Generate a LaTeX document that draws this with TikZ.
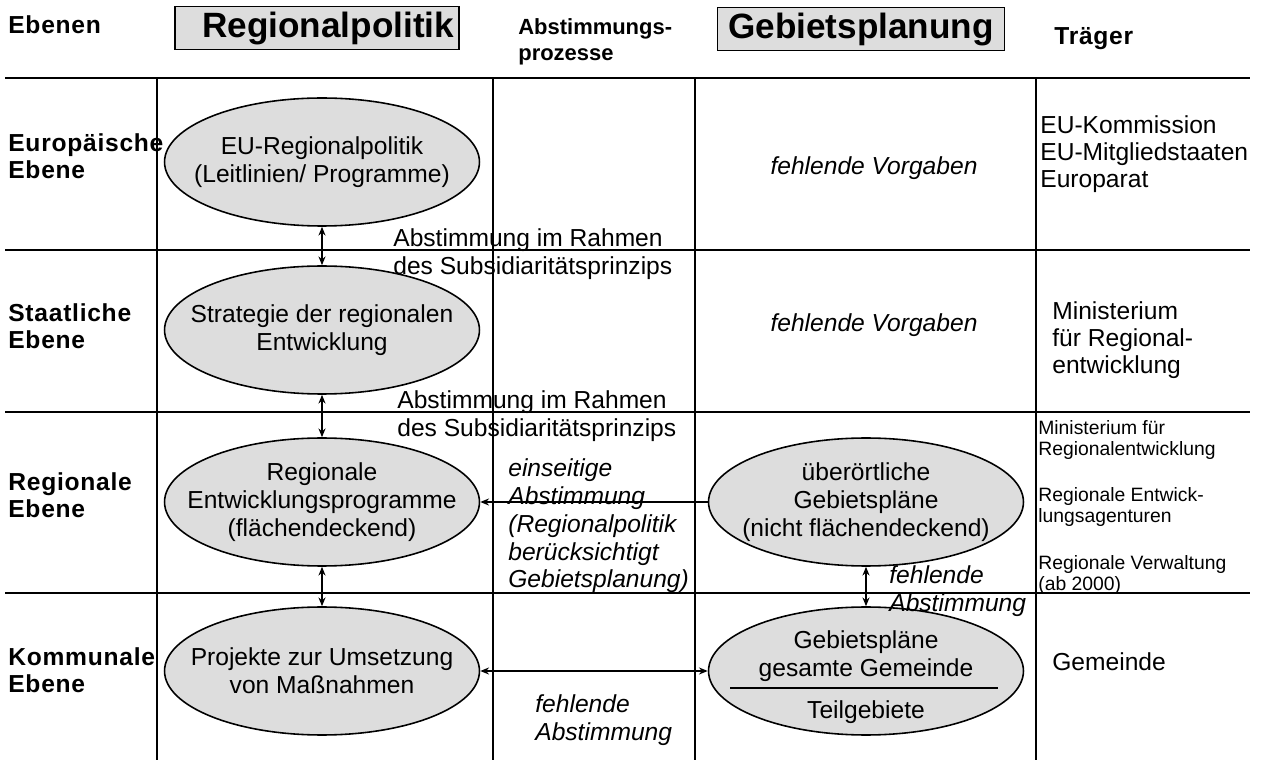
\documentclass[tikz,border=0pt]{standalone}
\usepackage{fontspec}
\setmainfont{Liberation Sans}
\newfontfamily\ebenefont[LetterSpace=3]{Liberation Sans}
\usetikzlibrary{shapes.geometric,arrows.meta,positioning}
\definecolor{plangray}{RGB}{221,221,221}

\tikzset{
  gridline/.style={line width=1.1pt},
  ebene/.style={anchor=west,align=left,inner sep=0pt,font=\ebenefont\bfseries\fontsize{14}{15.5}\selectfont},
  titlebox/.style={draw,line width=0.9pt,fill=plangray,inner sep=0pt,minimum height=0.86cm,font=\bfseries\fontsize{20}{24}\selectfont},
  plan/.style={ellipse,draw,line width=0.9pt,fill=plangray,inner sep=0pt,minimum width=6.3cm,minimum height=2.56cm},
  plantext/.style={align=center,inner sep=0pt,font=\fontsize{14}{16}\selectfont},
  remark/.style={anchor=west,align=left,inner sep=0pt,font=\fontsize{14}{16}\selectfont},
  hint/.style={remark,font=\itshape\fontsize{14}{15.8}\selectfont},
  traeger/.style={anchor=west,align=left,inner sep=0pt,font=\fontsize{14}{15.3}\selectfont},
  traegersmall/.style={anchor=west,align=left,inner sep=0pt,font=\fontsize{11}{12.5}\selectfont},
  link/.style={{Stealth[length=5pt,width=4pt]}-{Stealth[length=5pt,width=4pt]},line width=0.7pt},
  oneway/.style={-{Stealth[length=5pt,width=4pt]},line width=0.7pt}
}

\begin{document}
\begin{tikzpicture}[x=0.02cm,y=-0.02cm]
  \useasboundingbox (0,0) rectangle (1269,763);

  % ---- grid ----
  \foreach \y in {78,250,412,593}{\draw[gridline] (5,\y) -- (1250,\y);}
  \foreach \x in {157,493,695,1036}{\draw[gridline] (\x,78) -- (\x,760);}

  % ---- column headers ----
  \node[ebene] (hdEbenen) at (8,25) {Ebenen};
  \node[titlebox,minimum width=5.68cm] (hdRegpol) at (317,28) {\hspace*{0.45cm}Regionalpolitik};
  \node[ebene,font=\bfseries\fontsize{12.5}{15}\selectfont] (hdAbst) at (518,42) {Abstimmungs-\\prozesse};
  \node[titlebox,minimum width=5.74cm] (hdGebpl) at (861,29) {Gebietsplanung};
  \node[ebene] (hdTraeger) at (1054,39) {Träger};

  % ---- row labels ----
  \foreach \n/\y/\lbl in {Eu/156/{Europäische\\Ebene},
                          St/326/{Staatliche\\Ebene},
                          Rg/495/{Regionale\\Ebene},
                          Km/670/{Kommunale\\Ebene}}{
    \node[ebene] (row\n) at (8,\y) {\lbl};
  }

  % ---- ellipses ----
  \foreach \n/\x/\y/\txt in {euPol/322/162/{EU-Regionalpolitik\\(Leitlinien/ Programme)},
                             stStrat/322/330/{Strategie der regionalen\\Entwicklung},
                             rgProg/322/502/{Regionale\\Entwicklungsprogramme\\(flächendeckend)},
                             kmProj/322/671/{Projekte zur Umsetzung\\von Maßnahmen},
                             rgGeb/866/502/{überörtliche\\Gebietspläne\\(nicht flächendeckend)}}{
    \node[plan] (\n) at (\x,\y) {};
    \node[plantext] (\n-txt) at (\n) {\txt};
  }
  \node[plan] (kmGeb) at (866,671) {};
  \node[plantext] (kmGeb-top) at (866,656) {Gebietspläne\\gesamte Gemeinde};
  \node[plantext] (kmGeb-sub) at (866,712) {Teilgebiete};
  \draw[line width=0.9pt] (730,688) -- (998,688);

  % ---- coordination notes ----
  \node[remark] (subsiUp) at (393,254) {Abstimmung im Rahmen\\des Subsidiaritätsprinzips};
  \node[remark] (subsiLow) at (397,416) {Abstimmung im Rahmen\\des Subsidiaritätsprinzips};
  \node[hint,anchor=center] (noteEu) at (874,168) {fehlende Vorgaben};
  \node[hint,anchor=center] (noteSt) at (874,325) {fehlende Vorgaben};
  \node[hint] (noteRg) at (508,526) {einseitige\\Abstimmung\\(Regionalpolitik\\berücksichtigt\\Gebietsplanung)};
  \node[hint] (noteGeb) at (889,591) {fehlende\\Abstimmung};
  \node[hint] (noteKm) at (535,720) {fehlende\\Abstimmung};

  % ---- Traeger ----
  \node[traeger] (trEu) at (1040,154) {EU-Kommission\\EU-Mitgliedstaaten\\Europarat};
  \node[traeger] (trSt) at (1052,340) {Ministerium\\für Regional-\\entwicklung};
  \node[traegersmall] (trRg1) at (1038,440) {Ministerium für\\Regionalentwicklung};
  \node[traegersmall] (trRg2) at (1038,507) {Regionale Entwick-\\lungsagenturen};
  \node[traegersmall] (trRg3) at (1038,575) {Regionale Verwaltung\\(ab 2000)};
  \node[traeger] (trKm) at (1052,662) {Gemeinde};

  % ---- arrows ----
  \draw[link] (euPol.south) -- (stStrat.north);
  \draw[link] (stStrat.south) -- (rgProg.north);
  \draw[link] (rgProg.south) -- (kmProj.north);
  \draw[oneway] (rgGeb.west) -- (rgProg.east);
  \draw[link] (kmProj.east) -- (kmGeb.west);
  \draw[link] (rgGeb.south) -- (kmGeb.north);
\end{tikzpicture}
\end{document}
